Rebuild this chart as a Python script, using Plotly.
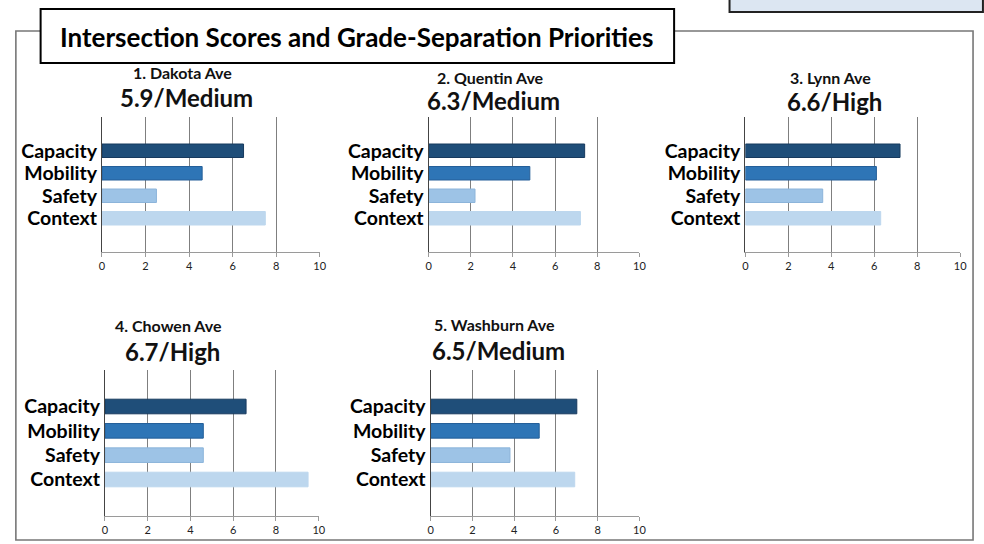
import plotly.graph_objects as go

# Scores per intersection (0-10 scale)
categories = ["Capacity", "Mobility", "Safety", "Context"]
intersections = ["1. Dakota Ave", "2. Quentin Ave", "3. Lynn Ave", "4. Chowen Ave", "5. Washburn Ave"]
overall = ["5.9/Medium", "6.3/Medium", "6.6/High", "6.7/High", "6.5/Medium"]
dakota = [6.5, 4.6, 2.5, 7.5]
quentin = [7.4, 4.8, 2.2, 7.2]
lynn = [7.2, 6.1, 3.6, 6.3]
chowen = [6.6, 4.6, 4.6, 9.5]
washburn = [7.0, 5.2, 3.8, 6.9]
x_ticks = [0, 2, 4, 6, 8, 10]

scores = [dakota, quentin, lynn, chowen, washburn]

W, H = 984, 544
FONT = "Lato"

bar_fill = ["#1f4e79", "#2e75b6", "#9dc3e6", "#bdd7ee"]
bar_edge = ["#173a5e", "#245f99", "#8cb4da", "#bdd7ee"]

# panel boxes in pixels: (x0, x1, y_top, y_bottom), title centre x, title y, score y
panels = [
    (100, 320, 117, 252, 181, 73, 97),
    (430, 643, 117, 252, 492, 77, 100),
    (750, 967, 117, 252, 836, 78, 101),
    (103, 319, 370, 516, 167, 325, 351),
    (432, 643, 370, 516, 497, 324, 350),
]


def px(x):
    return x / W


def py(y):
    return 1 - y / H


fig = go.Figure()
layout = dict(
    width=W, height=H,
    margin=dict(l=0, r=0, t=0, b=0),
    paper_bgcolor="white", plot_bgcolor="white",
    showlegend=False,
    font=dict(family=FONT, color="#000"),
)
annotations = []

for i, (vals, name, score, box) in enumerate(zip(scores, intersections, overall, panels)):
    x0, x1, yt, yb, tcx, ty, sy = box
    suffix = "" if i == 0 else str(i + 1)
    fig.add_trace(go.Bar(
        x=vals, y=categories, orientation="h",
        marker=dict(color=bar_fill, line=dict(color=bar_edge, width=1)),
        width=0.6,
        xaxis="x" + suffix, yaxis="y" + suffix,
        hoverinfo="x+y",
    ))
    layout["xaxis" + suffix] = dict(
        domain=[px(x0), px(x1)], anchor="y" + suffix,
        range=[0, 10], tickmode="array", tickvals=x_ticks,
        ticktext=[str(t) for t in x_ticks],
        showgrid=True, gridcolor="#7f7f7f", gridwidth=1,
        zeroline=False,
        showline=True, linecolor="#9a9a9a", linewidth=1,
        ticks="outside", ticklen=4, tickcolor="#9a9a9a",
        tickfont=dict(family=FONT, size=11, color="#222"),
        fixedrange=True,
    )
    layout["yaxis" + suffix] = dict(
        domain=[py(yb), py(yt)], anchor="x" + suffix,
        type="category", categoryorder="array", categoryarray=categories,
        tickmode="array", tickvals=categories, ticktext=categories,
        range=[4.5, -1.5],
        showgrid=False, zeroline=False,
        showline=True, linecolor="#444", linewidth=1.2,
        ticks="", ticklabelstandoff=0,
        tickfont=dict(family=FONT, size=19.5, color="#000", weight="bold"),
        fixedrange=True,
    )
    annotations.append(dict(
        x=px(tcx), y=py(ty), xref="paper", yref="paper",
        text="<b>" + name + "</b>", showarrow=False,
        font=dict(family=FONT, size=16, color="#111"),
        xanchor="center", yanchor="middle",
    ))
    annotations.append(dict(
        x=px(tcx + 4), y=py(sy), xref="paper", yref="paper",
        text="<b>" + score + "</b>", showarrow=False,
        font=dict(family=FONT, size=24, color="#111"),
        xanchor="center", yanchor="middle",
    ))

# main heading inside a boxed label
annotations.append(dict(
    x=px(357), y=py(37), xref="paper", yref="paper",
    text="<b>Intersection Scores and Grade-Separation Priorities</b>",
    showarrow=False, font=dict(family=FONT, size=26, color="#000"),
    xanchor="center", yanchor="middle",
))

shapes = [
    # outer frame
    dict(type="rect", xref="paper", yref="paper",
         x0=px(13), x1=px(980), y0=py(540), y1=py(31),
         line=dict(color="#777", width=1.6), fillcolor="rgba(0,0,0,0)", layer="below"),
    # heading box
    dict(type="rect", xref="paper", yref="paper",
         x0=px(38), x1=px(678), y0=py(63), y1=py(9),
         line=dict(color="#000", width=2), fillcolor="white", layer="above"),
    # corner tab
    dict(type="rect", xref="paper", yref="paper",
         x0=px(734), x1=px(990), y0=py(12), y1=py(-5),
         line=dict(color="#222", width=2), fillcolor="#dce6f2", layer="above"),
]

layout["annotations"] = annotations
layout["shapes"] = shapes
fig.update_layout(**layout)

fig.write_html("out.html")
